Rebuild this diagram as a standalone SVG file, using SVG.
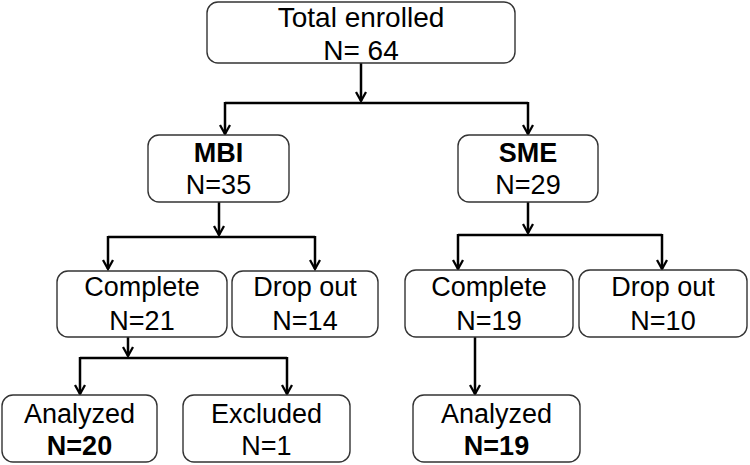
<svg xmlns="http://www.w3.org/2000/svg" width="750" height="465" viewBox="0 0 750 465">
<style>
.box{fill:#fff;stroke:#333;stroke-width:1.4}
.t{font-family:"Liberation Sans",Arial,sans-serif;font-size:27px;fill:#000;text-anchor:middle}
.b{font-weight:bold}
.c{fill:none;stroke:#000;stroke-width:2.5}
</style>
<defs>
<marker id="ah" viewBox="0 0 12 12" refX="10" refY="6" markerWidth="12" markerHeight="12" markerUnits="userSpaceOnUse" orient="auto">
<path d="M1,1 L10,6 L1,11" fill="none" stroke="#000" stroke-width="2.3"/>
</marker>
</defs>
<g id="connectors">
<path class="c" d="M361,63 V101" marker-end="url(#ah)"/>
<path class="c" d="M225,103 H528"/>
<path class="c" d="M225,102 V134" marker-end="url(#ah)"/>
<path class="c" d="M528,102 V134" marker-end="url(#ah)"/>
<path class="c" d="M219,202 V235" marker-end="url(#ah)"/>
<path class="c" d="M108,237 H315"/>
<path class="c" d="M108,236 V269" marker-end="url(#ah)"/>
<path class="c" d="M315,236 V269" marker-end="url(#ah)"/>
<path class="c" d="M528,202 V233" marker-end="url(#ah)"/>
<path class="c" d="M458,235 H662"/>
<path class="c" d="M458,234 V269" marker-end="url(#ah)"/>
<path class="c" d="M662,234 V269" marker-end="url(#ah)"/>
<path class="c" d="M128,337 V356" marker-end="url(#ah)"/>
<path class="c" d="M80,358 H287"/>
<path class="c" d="M80,357 V394" marker-end="url(#ah)"/>
<path class="c" d="M287,357 V394" marker-end="url(#ah)"/>
<path class="c" d="M475,337 V394" marker-end="url(#ah)"/>
</g>
<g id="total">
<rect class="box" x="207" y="2" width="308" height="61" rx="11"/>
<text class="t" x="361" y="27" style="font-size:28px">Total enrolled</text>
<text class="t" x="361" y="60" style="font-size:28px">N= 64</text>
</g>
<g id="mbi">
<rect class="box" x="148" y="135" width="141" height="67" rx="11"/>
<text class="t b" x="218.5" y="162">MBI</text>
<text class="t" x="218.5" y="194">N=35</text>
</g>
<g id="sme">
<rect class="box" x="458" y="135" width="140" height="67" rx="11"/>
<text class="t b" x="528" y="162">SME</text>
<text class="t" x="528" y="194">N=29</text>
</g>
<g id="mbi-complete">
<rect class="box" x="57" y="271" width="170" height="66" rx="11"/>
<text class="t" x="142" y="296">Complete</text>
<text class="t" x="142" y="330">N=21</text>
</g>
<g id="mbi-dropout">
<rect class="box" x="232" y="271" width="146" height="66" rx="11"/>
<text class="t" x="305" y="296">Drop out</text>
<text class="t" x="305" y="330">N=14</text>
</g>
<g id="sme-complete">
<rect class="box" x="405" y="270" width="168" height="67" rx="11"/>
<text class="t" x="489" y="296">Complete</text>
<text class="t" x="489" y="330">N=19</text>
</g>
<g id="sme-dropout">
<rect class="box" x="579" y="270" width="168" height="67" rx="11"/>
<text class="t" x="663" y="296">Drop out</text>
<text class="t" x="663" y="330">N=10</text>
</g>
<g id="mbi-analyzed">
<rect class="box" x="2" y="395" width="155" height="67" rx="11"/>
<text class="t" x="79.5" y="423">Analyzed</text>
<text class="t b" x="79.5" y="455">N=20</text>
</g>
<g id="mbi-excluded">
<rect class="box" x="183" y="395" width="167" height="67" rx="11"/>
<text class="t" x="266.5" y="423">Excluded</text>
<text class="t" x="266.5" y="455">N=1</text>
</g>
<g id="sme-analyzed">
<rect class="box" x="413" y="395" width="167" height="67" rx="11"/>
<text class="t" x="496.5" y="423">Analyzed</text>
<text class="t b" x="496.5" y="455">N=19</text>
</g>
</svg>
